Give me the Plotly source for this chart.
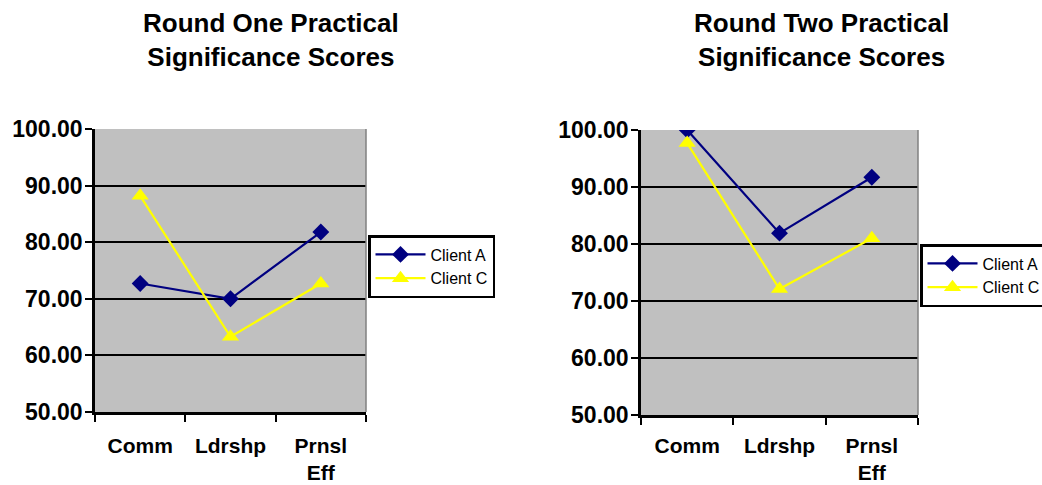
import plotly.graph_objects as go

# Categories and scores
categories = ["Comm", "Ldrshp", "Prnsl Eff"]
category_labels = ["Comm", "Ldrshp", "Prnsl<br>Eff"]

round1_client_a = [72.7, 70.0, 81.8]
round1_client_c = [88.2, 63.3, 72.7]

round2_client_a = [100.0, 81.9, 91.7]
round2_client_c = [97.7, 72.1, 81.0]

y_ticks = [50, 60, 70, 80, 90, 100]

W, H = 1042, 485
FONT = "Liberation Sans, Arial, sans-serif"
NAVY = "#000080"
YELLOW = "#FFFF00"
PLOT_BG = "#C0C0C0"


def px_x(v):
    return v / W


def px_y(v):
    return 1 - v / H


fig = go.Figure()

panels = [
    ("x", "y", "legend", round1_client_a, round1_client_c),
    ("x2", "y2", "legend2", round2_client_a, round2_client_c),
]

for xa, ya, leg, a_vals, c_vals in panels:
    fig.add_trace(go.Scatter(
        x=categories, y=a_vals, name="Client A", xaxis=xa, yaxis=ya, legend=leg,
        mode="lines+markers",
        line=dict(color=NAVY, width=2.2),
        marker=dict(symbol="diamond", size=13, color=NAVY),
    ))
    fig.add_trace(go.Scatter(
        x=categories, y=c_vals, name="Client C", xaxis=xa, yaxis=ya, legend=leg,
        mode="lines+markers",
        line=dict(color=YELLOW, width=2.2),
        marker=dict(symbol="triangle-up", size=15, color=YELLOW),
    ))

xaxis_common = dict(
    type="category",
    categoryorder="array",
    categoryarray=categories,
    range=[-0.5, 2.5],
    tickson="boundaries",
    tickmode="array",
    tickvals=categories,
    ticktext=category_labels,
    ticks="outside",
    ticklen=7,
    tickwidth=2,
    tickcolor="black",
    showgrid=False,
    showline=True,
    linecolor="black",
    linewidth=2.5,
    tickfont=dict(family=FONT, size=21, color="black", weight="bold"),
    fixedrange=True,
)

yaxis_common = dict(
    range=[50, 100],
    tickmode="array",
    tickvals=y_ticks,
    tickformat=".2f",
    ticks="outside",
    ticklen=7,
    tickwidth=2,
    tickcolor="black",
    ticklabelstandoff=-2,
    showgrid=True,
    gridcolor="black",
    gridwidth=2,
    zeroline=False,
    showline=True,
    linecolor="black",
    linewidth=2.5,
    tickfont=dict(family=FONT, size=23, color="black", weight="bold"),
    fixedrange=True,
)

legend_common = dict(
    xanchor="left", yanchor="top",
    bgcolor="white", bordercolor="black", borderwidth=2.5,
    itemwidth=50,
    font=dict(family=FONT, size=16, color="black"),
)

fig.update_layout(
    width=W,
    height=H,
    margin=dict(l=0, r=0, t=0, b=0, autoexpand=False),
    paper_bgcolor="white",
    plot_bgcolor=PLOT_BG,
    showlegend=True,
    xaxis=dict(xaxis_common, domain=[px_x(95), px_x(366)], anchor="y",
               ticklabelstandoff=13),
    yaxis=dict(yaxis_common, domain=[px_y(412), px_y(129)], anchor="x"),
    xaxis2=dict(xaxis_common, domain=[px_x(641), px_x(918)], anchor="y2",
                ticklabelstandoff=10),
    yaxis2=dict(yaxis_common, domain=[px_y(415), px_y(130)], anchor="x2"),
    legend=dict(legend_common, x=px_x(368), y=px_y(235)),
    legend2=dict(legend_common, x=px_x(920), y=px_y(244)),
    annotations=[
        dict(text="<b>Round One Practical<br>Significance Scores</b>",
             x=px_x(271), y=px_y(39.5), xref="paper", yref="paper",
             xanchor="center", yanchor="middle", showarrow=False,
             font=dict(family=FONT, size=26, color="black")),
        dict(text="<b>Round Two Practical<br>Significance Scores</b>",
             x=px_x(821), y=px_y(39.5), xref="paper", yref="paper",
             xanchor="center", yanchor="middle", showarrow=False,
             font=dict(family=FONT, size=26, color="black")),
    ],
    shapes=[
        dict(type="line", xref="x domain", yref="y domain", x0=1, x1=1, y0=0, y1=1,
             line=dict(color="#808080", width=1.5)),
        dict(type="line", xref="x2 domain", yref="y2 domain", x0=1, x1=1, y0=0, y1=1,
             line=dict(color="#808080", width=1.5)),
    ],
)

fig.write_html("out.html")
